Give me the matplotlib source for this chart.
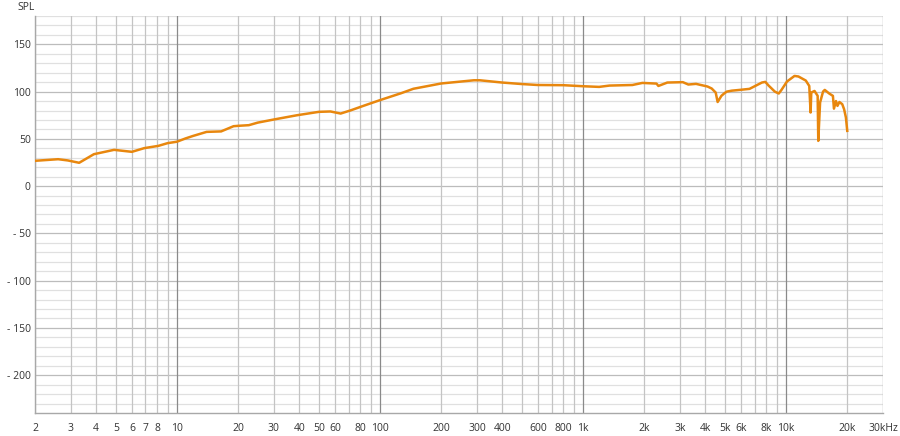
import numpy as np
import matplotlib
matplotlib.use("Agg")
import matplotlib.pyplot as plt

# frequency response (Hz, dB SPL)
freq = [2.0, 2.6, 2.9, 3.3, 3.9, 4.9, 6.0, 6.9, 8.1, 9.0, 10.0, 11.0, 12.0, 14.0,
        16.5, 19.0, 20.0, 22.6, 25.0, 30.0, 39.0, 50.0, 57.0, 64.0, 72.0, 83.0,
        100.0, 127.0, 146.0, 200.0, 290.0, 310.0, 400.0, 500.0, 600.0, 800.0,
        1000.0, 1200.0, 1350.0, 1750.0, 1960.0, 2300.0, 2350.0, 2600.0, 3100.0,
        3300.0, 3600.0, 4100.0, 4300.0, 4500.0, 4600.0, 4800.0, 4950.0, 5100.0,
        5400.0, 5900.0, 6600.0, 6900.0, 7600.0, 7900.0, 8200.0, 8800.0, 9200.0,
        9500.0, 9800.0, 10100.0, 11000.0, 11500.0, 12500.0, 13000.0, 13200.0,
        13300.0, 13800.0, 14300.0, 14400.0, 14700.0, 15200.0, 15500.0, 16300.0,
        17000.0, 17200.0, 17600.0, 17900.0, 18300.0, 18900.0, 19300.0, 19700.0,
        20000.0]
spl = [26.8, 28.5, 27.2, 24.7, 33.8, 38.4, 36.3, 40.2, 42.6, 45.5, 47.0, 50.4,
       53.1, 57.4, 57.9, 63.4, 63.8, 64.5, 67.2, 70.5, 75.0, 78.6, 79.0, 76.8,
       80.3, 85.0, 91.0, 98.3, 103.0, 108.6, 112.0, 112.0, 109.6, 108.0, 107.0,
       106.8, 105.7, 105.0, 106.4, 107.0, 109.2, 108.5, 106.0, 109.6, 110.0,
       107.5, 108.2, 105.4, 103.3, 99.0, 89.0, 95.5, 98.0, 100.0, 101.0, 101.8,
       102.9, 105.0, 109.6, 110.3, 106.4, 100.0, 98.0, 102.0, 106.4, 110.7,
       116.6, 116.0, 111.7, 106.0, 77.9, 99.0, 100.7, 95.5, 47.9, 88.5, 100.0,
       101.8, 98.0, 95.5, 82.0, 90.0, 84.9, 89.0, 86.7, 81.4, 72.6, 58.5]

xticks = [2, 3, 4, 5, 6, 7, 8, 10, 20, 30, 40, 50, 60, 80, 100, 200, 300, 400,
          600, 800, 1000, 2000, 3000, 4000, 5000, 6000, 8000, 10000, 20000, 30000]
xlabels = ["2", "3", "4", "5", "6", "7", "8", "10", "20", "30", "40", "50", "60",
           "80", "100", "200", "300", "400", "600", "800", "1k", "2k", "3k", "4k",
           "5k", "6k", "8k", "10k", "20k", "30kHz"]
yticks = [150, 100, 50, 0, -50, -100, -150, -200]
ylabels = ["150", "100", "50", "0", "- 50", "- 100", "- 150", "- 200"]

plt.rcParams['font.family'] = ['Open Sans', 'DejaVu Sans']

fig = plt.figure(figsize=(9, 4.36), dpi=100)
ax = fig.add_axes([35 / 900, 1 - 413 / 436, 848 / 900, 397 / 436])
ax.set_xscale('log')
ax.set_xlim(2, 30000)
ax.set_ylim(-240, 180)

# grid: horizontal every 10 dB, darker every 50
for v in range(-230, 181, 10):
    c = '#bcbcbc' if v % 50 == 0 else '#e0e0e0'
    ax.axhline(v, color=c, lw=0.9, zorder=0)
# vertical grid at every 1-2-3..9 step, decades darker
for d in [1, 10, 100, 1000, 10000]:
    for m in range(1, 10):
        f = d * m
        if f < 2 or f > 30000:
            continue
        c = '#8a8a8a' if m == 1 else '#c4c4c4'
        ax.axvline(f, color=c, lw=0.9, zorder=0)
ax.axvline(30000, color='#c4c4c4', lw=0.9, zorder=0)

ax.plot(freq, spl, color='#e8870e', lw=1.8, zorder=3, solid_joinstyle='round')

for s in ['top', 'right']:
    ax.spines[s].set_visible(False)
for s in ['left', 'bottom']:
    ax.spines[s].set_color('#a8a8a8')
    ax.spines[s].set_linewidth(1.0)

ax.minorticks_off()
ax.set_xticks(xticks)
ax.set_xticklabels(xlabels)
ax.set_yticks(yticks)
ax.set_yticklabels(ylabels)
ax.tick_params(length=0, labelsize=7.5, colors='#333333', pad=7)
ax.tick_params(axis='y', pad=3)

fig.text(17 / 900, 1 - 8 / 436, "SPL", fontsize=7.5, color='#333333',
         va='center', ha='left')

fig.savefig('out.png', dpi=100)
